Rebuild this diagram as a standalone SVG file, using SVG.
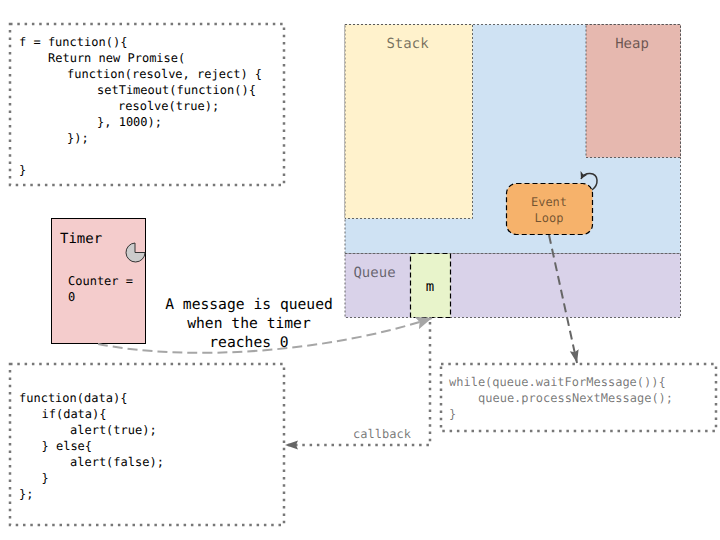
<svg xmlns="http://www.w3.org/2000/svg" width="720" height="540" viewBox="0 0 720 540">
<style>
text{font-family:"DejaVu Sans Mono",monospace;font-size:12px;fill:#000;white-space:pre;text-rendering:geometricPrecision}
.big{font-size:14.67px}
.mid{font-size:14px}
.grey{fill:#000;fill-opacity:.55}
.box{stroke:#777;stroke-width:2.500;stroke-dasharray:2.500 4.800;fill:none}
.zone{stroke:#444;stroke-width:.8;stroke-dasharray:2 2}
.cell{stroke:#000;stroke-width:1.200;stroke-dasharray:5 3}
.flow{fill:none;stroke:#a6a6a6;stroke-width:2;stroke-dasharray:10 5}
</style>
<defs>
<marker id="ah" markerUnits="userSpaceOnUse" markerWidth="17" markerHeight="13" refX="16" refY="6.500" orient="auto"><path d="M0 0L16 6.500L0 13L3 6.500Z" fill="#a6a6a6"/></marker>
<marker id="ad" markerUnits="userSpaceOnUse" markerWidth="14" markerHeight="10" refX="13" refY="4.500" orient="auto"><path d="M0 0L13 4.500L0 9L2 4.500Z" fill="#666"/></marker>
<marker id="ak" markerUnits="userSpaceOnUse" markerWidth="8" markerHeight="8" refX="7" refY="4" orient="auto"><path d="M0 0L7 4L0 8L2 4Z" fill="#333"/></marker>
</defs>

<g id="promise-code">
<rect class="box" x="10" y="24" width="274" height="161"/>
<text x="19" y="46">f = function(){</text>
<text x="48" y="62">Return new Promise(</text>
<text x="67" y="78">function(resolve, reject) {</text>
<text x="97" y="94">setTimeout(function(){</text>
<text x="118" y="110">resolve(true);</text>
<text x="97" y="126">}, 1000);</text>
<text x="67" y="142">});</text>
<text x="19" y="174">}</text>
</g>

<g id="runtime"><rect class="zone" x="345" y="24.500" width="335.500" height="229" fill="#cfe2f3"/></g>
<g id="stack"><rect class="zone" x="345" y="24.500" width="127.500" height="194" fill="#fff2cc"/><text class="mid grey" x="407.500" y="48" text-anchor="middle">Stack</text></g>
<g id="heap"><rect class="zone" x="586" y="24.500" width="94.500" height="133" fill="#e6b8af"/><text class="mid grey" x="632" y="48" text-anchor="middle">Heap</text></g>
<g id="queue"><rect class="zone" x="345" y="253.500" width="335.500" height="64" fill="#d9d2e9"/><text class="mid grey" x="374.500" y="277" text-anchor="middle">Queue</text></g>
<g id="message"><rect class="cell" x="410.500" y="253.500" width="40" height="64" fill="#e8f4cb"/><text class="mid" x="430" y="291" text-anchor="middle">m</text></g>
<g id="event-loop">
<rect class="cell" x="506.500" y="183.500" width="86" height="51" rx="10" fill="#f6b26b"/>
<text class="grey" x="549" y="206" text-anchor="middle">Event</text>
<text class="grey" x="549" y="222" text-anchor="middle">Loop</text>
<path d="M592 190C599 185 599 174 590 173.500C586 173.300 583 175 581 179" fill="none" stroke="#333" stroke-width="1.500" marker-end="url(#ak)"/>
</g>

<g id="timer">
<rect x="51.500" y="218.500" width="94" height="125" fill="#f4cccc" stroke="#000"/>
<text class="mid" x="60" y="243">Timer</text>
<text x="68" y="285">Counter =</text>
<text x="68" y="301">0</text>
<path d="M135 243A9.500 9.500 0 1 0 145 252.500H135Z" fill="#ccc" stroke="#333"/>
</g>

<g id="callback-code">
<rect class="box" x="10" y="364" width="274" height="161"/>
<text x="19" y="402">function(data){</text>
<text x="41.500" y="418">if(data){</text>
<text x="70" y="434">alert(true);</text>
<text x="41.500" y="450">} else{</text>
<text x="70" y="466">alert(false);</text>
<text x="41.500" y="482">}</text>
<text x="19" y="498">};</text>
</g>

<g id="loop-code">
<rect class="box" x="441" y="364" width="275" height="67"/>
<text class="grey" x="449" y="386">while(queue.waitForMessage()){</text>
<text class="grey" x="478" y="402">queue.processNextMessage();</text>
<text class="grey" x="449" y="418">}</text>
</g>

<g id="connectors">
<path class="flow" d="M98 344C190 362 330 352 432 318" marker-end="url(#ah)"/>
<path d="M549 235L577 363" fill="none" stroke="#666" stroke-width="2" stroke-dasharray="9 5" marker-end="url(#ad)"/>
<path d="M430 322V445H285" fill="none" stroke="#777" stroke-width="2.500" stroke-dasharray="2.500 4.800" marker-end="url(#ad)"/>
</g>
<text class="big" x="249" y="309" text-anchor="middle">A message is queued</text>
<text class="big" x="249" y="328" text-anchor="middle">when the timer</text>
<text class="big" x="249" y="347" text-anchor="middle">reaches 0</text>
<text class="grey" x="382" y="438" text-anchor="middle">callback</text>
</svg>
